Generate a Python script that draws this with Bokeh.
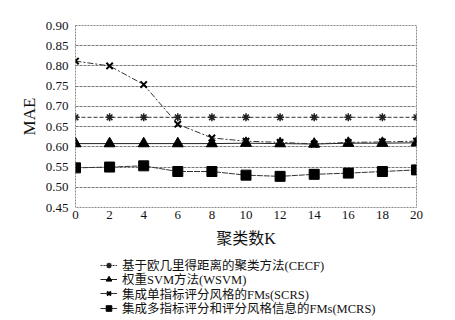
from bokeh.plotting import figure
from bokeh.layouts import column
from bokeh.models import Legend, LegendItem, FixedTicker, NumeralTickFormatter, Range1d
from bokeh.embed import file_html
from bokeh.resources import INLINE

# ---- data ----
k_values = [0, 2, 4, 6, 8, 10, 12, 14, 16, 18, 20]
cecf = [0.673] * 11
wsvm = [0.608, 0.608, 0.608, 0.608, 0.608, 0.609, 0.608, 0.607, 0.609, 0.609, 0.610]
scrs = [0.812, 0.800, 0.754, 0.656, 0.622, 0.614, 0.611, 0.607, 0.611, 0.612, 0.614]
mcrs = [0.548, 0.550, 0.553, 0.539, 0.539, 0.530, 0.527, 0.532, 0.535, 0.539, 0.543]
y_ticks = [0.45, 0.50, 0.55, 0.60, 0.65, 0.70, 0.75, 0.80, 0.85, 0.90]
x_ticks = [0, 2, 4, 6, 8, 10, 12, 14, 16, 18, 20]
labels = ["基于欧几里得距离的聚类方法(CECF)",
          "权重SVM方法(WSVM)",
          "集成单指标评分风格的FMs(SCRS)",
          "集成多指标评分和评分风格信息的FMs(MCRS)"]

SERIF = "Liberation Serif"
MIX = "Liberation Serif, Noto Sans CJK SC"

p = figure(width=447, height=250, output_backend="svg", toolbar_location=None,
           x_range=Range1d(0, 20), y_range=Range1d(0.45, 0.90),
           min_border_left=75, min_border_right=31, min_border_top=25, min_border_bottom=43)
p.frame_width = 341
p.frame_height = 182

p.outline_line_color = "#888888"
p.outline_line_dash = "2 1"
p.outline_line_width = 1

p.xgrid.grid_line_color = None
p.ygrid.grid_line_color = "#777777"
p.ygrid.grid_line_dash = "3 1"
p.ygrid.grid_line_width = 1
p.ygrid.ticker = FixedTicker(ticks=y_ticks)

p.yaxis.ticker = FixedTicker(ticks=y_ticks)
p.xaxis.ticker = FixedTicker(ticks=x_ticks)
p.yaxis.formatter = NumeralTickFormatter(format="0.00")
for ax in (p.xaxis, p.yaxis):
    ax.axis_line_color = None
    ax.major_tick_line_color = None
    ax.minor_tick_line_color = None
    ax.major_tick_out = 0
    ax.major_tick_in = 0
    ax.minor_tick_out = 0
    ax.minor_tick_in = 0
    ax.major_label_text_font = SERIF
    ax.major_label_text_font_size = "13px"
    ax.major_label_text_color = "#111111"
    ax.axis_label_text_font_style = "normal"
    ax.axis_label_text_color = "#111111"
p.yaxis.major_label_standoff = 7
p.xaxis.major_label_standoff = 3
p.yaxis.axis_label = "MAE"
p.yaxis.axis_label_text_font = SERIF
p.yaxis.axis_label_text_font_size = "17px"
p.yaxis.axis_label_standoff = 4
p.xaxis.axis_label = "聚类数K"
p.xaxis.axis_label_text_font = MIX
p.xaxis.axis_label_text_font_size = "16px"
p.xaxis.axis_label_standoff = 8

# series
styles = [
    dict(line=dict(line_color="#333333", line_width=1, line_dash="4 2"),
         mark=dict(marker="asterisk", size=8, line_color="#222222", line_width=1.5)),
    dict(line=dict(line_color="#222222", line_width=1),
         mark=dict(marker="triangle", size=11, fill_color="black", line_color="black")),
    dict(line=dict(line_color="#333333", line_width=1, line_dash="6 2 2 2"),
         mark=dict(marker="x", size=9, line_color="black", line_width=2)),
    dict(line=dict(line_color="#333333", line_width=1, line_dash="6 1"),
         mark=dict(marker="square", size=10, fill_color="black", line_color="black")),
]
series = [cecf, wsvm, scrs, mcrs]
for ys, st in zip(series, styles):
    p.line(k_values, ys, **st["line"])
    p.scatter(k_values, ys, **st["mark"])

# legend strip below the chart: same series, drawn out of view, used only for the key
q = figure(width=447, height=68, output_backend="svg", toolbar_location=None,
           x_axis_type=None, y_axis_type=None,
           x_range=Range1d(-200, -100), y_range=Range1d(0.45, 0.90),
           min_border_left=0, min_border_right=0, min_border_top=0, min_border_bottom=0)
q.outline_line_color = None
q.xgrid.grid_line_color = None
q.ygrid.grid_line_color = None
legend_styles = [
    dict(line=dict(line_color="#333333", line_width=1, line_dash="2 1"),
         mark=dict(marker="asterisk", size=6, line_color="#222222", line_width=1.5)),
    dict(line=dict(line_color="#222222", line_width=1),
         mark=dict(marker="triangle", size=9, fill_color="black", line_color="black")),
    dict(line=dict(line_color="#333333", line_width=1),
         mark=dict(marker="x", size=7, line_color="black", line_width=2)),
    dict(line=dict(line_color="#333333", line_width=1),
         mark=dict(marker="square", size=8, fill_color="black", line_color="black")),
]
row_bottoms = [44.0, 29.7, 15.3, 1.0]
for lab, ys, st, yb in zip(labels, series, legend_styles, row_bottoms):
    lr = q.line(k_values, ys, **st["line"])
    mr = q.scatter(k_values, ys, **st["mark"])
    lg = Legend(items=[LegendItem(label=lab, renderers=[lr, mr])], location=(25, yb))
    lg.background_fill_alpha = 0
    lg.border_line_color = None
    lg.padding = 0
    lg.margin = 0
    lg.spacing = 0
    lg.label_height = 14
    lg.glyph_height = 14
    lg.glyph_width = 17
    lg.label_standoff = 5
    lg.label_text_font = MIX
    lg.label_text_font_size = "12.5px"
    lg.label_text_color = "#111111"
    q.add_layout(lg, "center")

layout = column(p, q, spacing=0)
open("out.html", "w").write(file_html(layout, INLINE))
